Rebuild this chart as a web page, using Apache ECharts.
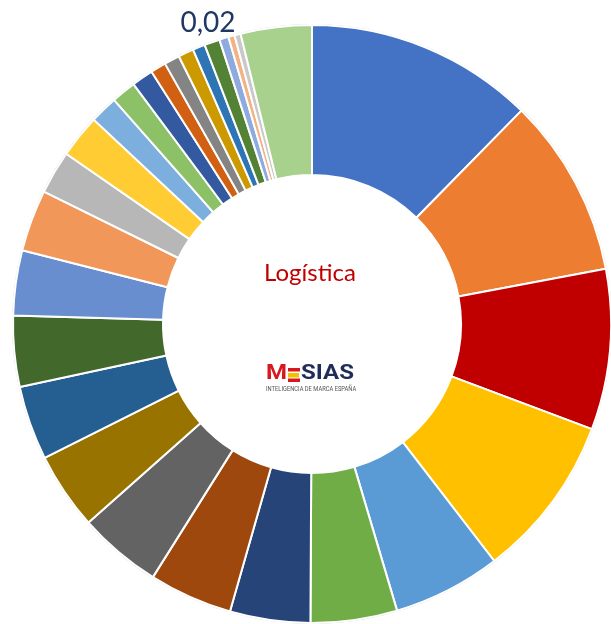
<!DOCTYPE html>
<html>
<head>
<meta charset="utf-8">
<script src="https://cdn.jsdelivr.net/npm/echarts@6/dist/echarts.min.js"></script>
<style>
  html, body { margin: 0; padding: 0; background: #ffffff; }
  #chart { width: 611px; height: 624px; }
</style>
</head>
<body>
<div id="chart"></div>
<script>
// Slice values, clockwise from 12 o'clock
var values = [
  0.74, 0.58, 0.52, 0.53, 0.35, 0.28,
  0.26, 0.27, 0.27, 0.25, 0.24, 0.23,
  0.21, 0.20, 0.14, 0.14, 0.09, 0.08,
  0.07, 0.05, 0.05, 0.05, 0.04, 0.05,
  0.03, 0.02, 0.02, 0.23
];

// Slice fill colours, same order
var colors = [
  '#4472C4', '#ED7D31', '#C00000', '#FFC000', '#5B9BD5', '#70AD47',
  '#264478', '#9E480E', '#636363', '#997300', '#255E91', '#43682B',
  '#698ED0', '#F1975A', '#B7B7B7', '#FFCD33', '#7CAFDD', '#8CC168',
  '#335AA1', '#D26012', '#848484', '#CC9A00', '#2E75B6', '#548235',
  '#8FAADC', '#F4B183', '#C9C9C9', '#A9D18E'
];

// Only this slice carries a value label
var labelledIndex = 26;

var centerTitle = 'Logística';
var brandTagline = 'INTELIGENCIA DE MARCA ESPAÑA';

var fmt = function (v) { return v.toFixed(2).replace('.', ','); };

var data = values.map(function (v, i) {
  return {
    value: v,
    itemStyle: { color: colors[i] },
    label: { show: i === labelledIndex }
  };
});

var chart = echarts.init(document.getElementById('chart'), null, { renderer: 'canvas' });

chart.setOption({
  animation: false,
  backgroundColor: '#ffffff',
  series: [
    {
      // faint outline around the ring
      type: 'pie',
      center: [312, 324],
      radius: [299, 300],
      silent: true,
      label: { show: false },
      labelLine: { show: false },
      itemStyle: { color: '#d6d6d6' },
      data: [1]
    },
    {
      type: 'pie',
      center: [312, 324],
      radius: [149, 299],
      startAngle: 90,
      clockwise: true,
      avoidLabelOverlap: false,
      emphasis: { disabled: true },
      itemStyle: { borderColor: '#ffffff', borderWidth: 2 },
      label: {
        position: 'outside',
        formatter: function (p) { return fmt(p.value); },
        fontFamily: 'Lato, "Open Sans", sans-serif',
        fontSize: 28,
        color: '#1F3864'
      },
      labelLine: { show: false, length: 12, length2: 0 },
      labelLayout: { dx: 6 },
      data: data
    }
  ],
  graphic: [
    {
      type: 'text',
      x: 310,
      y: 261,
      style: {
        text: centerTitle,
        align: 'center',
        fontFamily: 'Lato, "Open Sans", sans-serif',
        fontSize: 24,
        fill: '#C00000'
      }
    },
    {
      type: 'group',
      x: 266,
      y: 364,
      children: [
        {
          type: 'text',
          x: 0, y: 0,
          scaleX: 1.2,
          style: { text: 'M', fontFamily: 'Roboto, sans-serif', fontWeight: 'bold', fontSize: 20, fill: '#D7191F' }
        },
        { type: 'rect', shape: { x: 22, y: 4, width: 12, height: 3.5 }, style: { fill: '#D7191F' } },
        { type: 'rect', shape: { x: 22, y: 9, width: 11, height: 4.5 }, style: { fill: '#F2C200' } },
        { type: 'rect', shape: { x: 22, y: 14.5, width: 12, height: 3.5 }, style: { fill: '#D7191F' } },
        {
          type: 'text',
          x: 35, y: 0,
          scaleX: 1.2,
          style: { text: 'SIAS', fontFamily: 'Roboto, sans-serif', fontWeight: 'bold', fontSize: 20, fill: '#1F2D5A' }
        },
        {
          type: 'text',
          x: 0, y: 21,
          scaleX: 0.72,
          style: { text: brandTagline, fontFamily: 'Roboto, sans-serif', fontSize: 8, fill: '#555555' }
        }
      ]
    }
  ]
});
</script>
</body>
</html>
